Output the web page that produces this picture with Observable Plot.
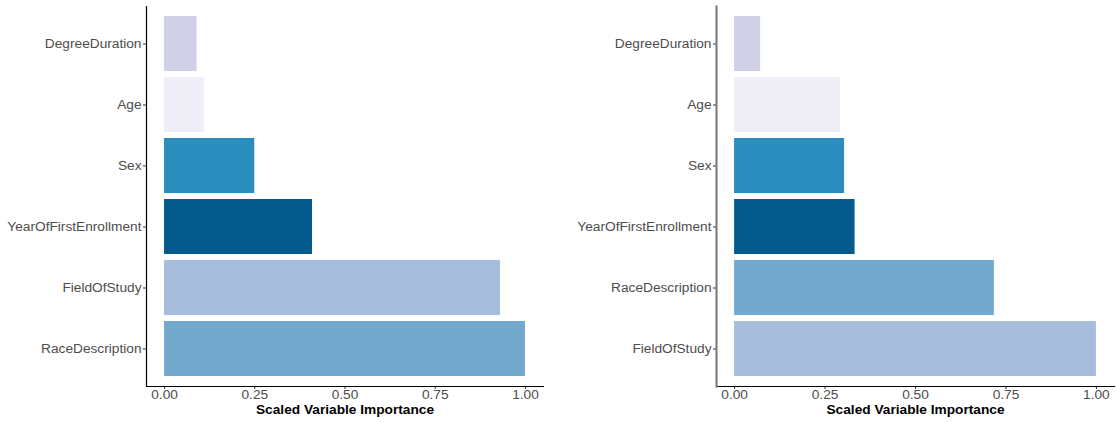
<!DOCTYPE html>
<html>
<head>
<meta charset="utf-8">
<script src="https://cdn.jsdelivr.net/npm/d3@7"></script>
<script src="https://cdn.jsdelivr.net/npm/@observablehq/plot@0.6"></script>
<style>
  html, body { margin: 0; padding: 0; background: #fff; }
  #wrap { position: relative; width: 1116px; height: 422px; }
  #left, #right { position: absolute; top: 0; }
  #left { left: 0; }
  #right { left: 558px; }
  g[aria-label="x-axis label"] text { font-weight: bold; fill: #000; font-size: 13.7px; }
  g[aria-label="x-axis tick"] path, g[aria-label="y-axis tick"] path { stroke: #333; }
</style>
</head>
<body>
<div id="wrap"><div id="left"></div><div id="right"></div></div>
<script>
// Left panel
const leftVariables = ["DegreeDuration", "Age", "Sex", "YearOfFirstEnrollment", "FieldOfStudy", "RaceDescription"];
const leftImportance = [0.09, 0.11, 0.25, 0.41, 0.931, 1.0];
// Right panel
const rightVariables = ["DegreeDuration", "Age", "Sex", "YearOfFirstEnrollment", "RaceDescription", "FieldOfStudy"];
const rightImportance = [0.072, 0.293, 0.304, 0.333, 0.718, 1.0];
// Fill colours by variable
const colorVariables = ["DegreeDuration", "Age", "Sex", "YearOfFirstEnrollment", "FieldOfStudy", "RaceDescription"];
const colorValues = ["#d0d1e6", "#efedf5", "#2b8cbe", "#045a8d", "#a6bddb", "#74a9cf"];
// Axis
const xTicks = [0, 0.25, 0.5, 0.75, 1.0];
const xTickLabels = ["0.00", "0.25", "0.50", "0.75", "1.00"];
const xTitle = "Scaled Variable Importance";

function panel(vars, vals, ml, mr, yLineColor, yLineWidth) {
  const data = vars.map((v, i) => ({name: v, value: vals[i]}));
  return Plot.plot({
    width: 558, height: 422,
    marginTop: 6, marginBottom: 36, marginLeft: ml, marginRight: mr,
    style: {fontFamily: "'Liberation Sans', Arial, sans-serif", fontSize: "13.7px", background: "white", overflow: "visible"},
    x: {domain: [-0.05, 1.05]},
    y: {domain: vars, paddingInner: 0.1, paddingOuter: 0.15, align: 0.5},
    color: {domain: colorVariables, range: colorValues},
    marks: [
      Plot.barX(data, {x: "value", y: "name", fill: "name"}),
      Plot.axisY({tickSize: 3, tickPadding: 2, label: null, color: "#4d4d4d"}),
      Plot.axisX({ticks: xTicks, tickFormat: d => xTickLabels[xTicks.indexOf(d)], tickSize: 3, tickPadding: 0,
                  color: "#4d4d4d", label: xTitle, labelAnchor: "center", labelArrow: "none", labelOffset: 27}),
      Plot.frame({anchor: "bottom", stroke: "#000", strokeWidth: 1.2}),
      Plot.frame({anchor: "left", stroke: yLineColor, strokeWidth: yLineWidth})
    ]
  });
}

document.getElementById("left").appendChild(panel(leftVariables, leftImportance, 146, 15, "#000", 1.2));
document.getElementById("right").appendChild(panel(rightVariables, rightImportance, 158, 2, "#777", 2));
</script>
</body>
</html>
